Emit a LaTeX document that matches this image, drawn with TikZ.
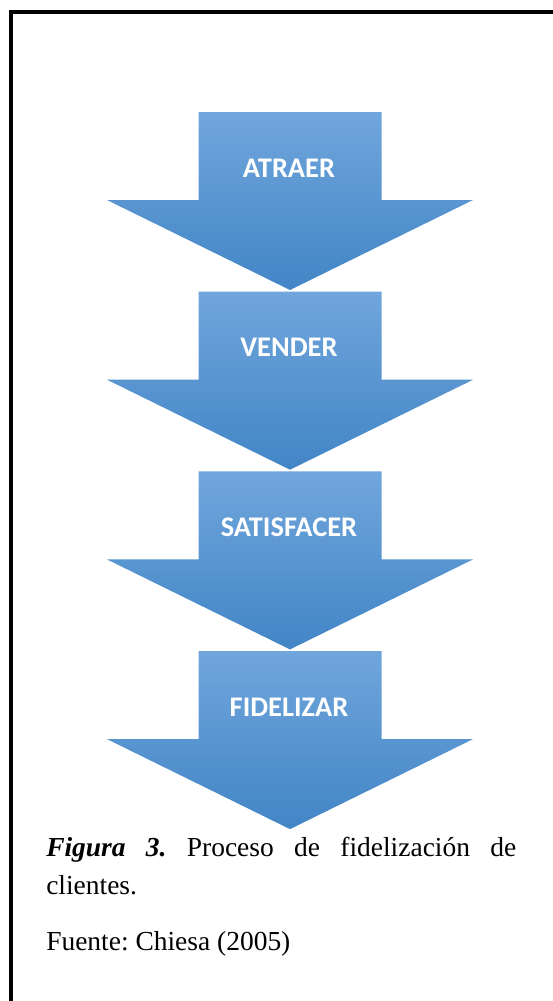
\documentclass[tikz,border=0pt]{standalone}
\usepackage{fontspec}
\setmainfont{Liberation Serif}
\newfontfamily\carlito{Carlito}
\definecolor{arrtop}{RGB}{112,166,220}
\definecolor{arrbot}{RGB}{66,133,198}
\frenchspacing
\begin{document}
\begin{tikzpicture}[x=0.75pt,y=-0.75pt,
  arrowshape/.style={top color=arrtop,bottom color=arrbot,draw=none},
  arrowlabel/.style={font=\carlito\bfseries\fontsize{21.3}{25}\selectfont,text=white,inner sep=0pt,anchor=base},
  captext/.style={font=\fontsize{20.6}{28}\selectfont,inner sep=0pt,anchor=base west},
  frameline/.style={line width=3pt,black}]
\useasboundingbox (0,0) rectangle (553,1001);
\fill[white] (0,0) rectangle (553,1001);
\draw[frameline] (10.5,1010) -- (10.5,12) -- (560,12);
\foreach \i/\t/\n in {0/ATRAER/a,1/VENDER/b,2/SATISFACER/c,3/FIDELIZAR/d}{
  \pgfmathsetmacro\yy{179.7*\i}
  \shade[arrowshape] (198.5,{112+\yy}) -- (381.5,{112+\yy}) -- (381.5,{200+\yy}) -- (473,{200+\yy}) -- (290,{290+\yy}) -- (107,{200+\yy}) -- (198.5,{200+\yy}) -- cycle;
  \node[arrowlabel] (\n) at (289,{177+\yy}) {\t};
}
\node[captext] (cap1) at (46,856) {\makebox[352.5pt][s]{\textbf{\textit{Figura 3.}} Proceso de fidelización de}};
\node[captext] (cap2) at (46,894) {clientes.};
\node[captext] (src) at (46,950) {Fuente: Chiesa (2005)};
\end{tikzpicture}
\end{document}
